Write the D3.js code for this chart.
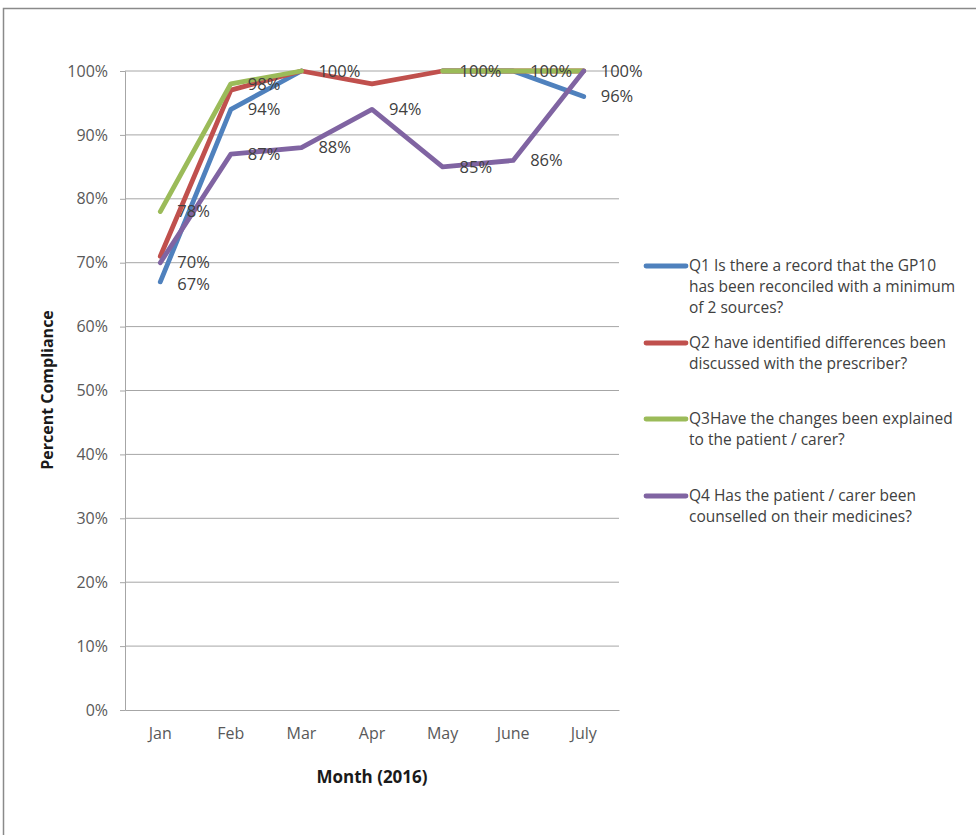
<!DOCTYPE html>
<html>
<head>
<meta charset="utf-8">
<script src="https://cdn.jsdelivr.net/npm/d3@7/dist/d3.min.js"></script>
<style>
  html, body { margin: 0; padding: 0; background: #fff; }
  svg { display: block; font-family: "Open Sans", "Noto Sans", sans-serif; }
</style>
</head>
<body>
<svg id="chart" width="976" height="835"></svg>
<script>
// Months audited
const months = ["Jan", "Feb", "Mar", "Apr", "May", "June", "July"];

// Percent compliance per question (null = not recorded that month)
const q1Values = [67, 94, 100, null, 100, 100, 96];
const q2Values = [71, 97, 100, 98, 100, 100, 100];
const q3Values = [78, 98, 100, null, 100, 100, 100];
const q4Values = [70, 87, 88, 94, 85, 86, 100];

const q1Name = ["Q1 Is there a record that the GP10", "has been reconciled with a minimum", "of 2 sources?"];
const q2Name = ["Q2 have identified differences been", "discussed with the prescriber?"];
const q3Name = ["Q3Have the changes been explained", "to the patient / carer?"];
const q4Name = ["Q4 Has the patient / carer been", "counselled on their medicines?"];

const yTicks = [0, 10, 20, 30, 40, 50, 60, 70, 80, 90, 100];

const series = [
  { name: q1Name, values: q1Values, color: "#4F81BD", labelled: true },
  { name: q2Name, values: q2Values, color: "#C0504D", labelled: false },
  { name: q3Name, values: q3Values, color: "#9BBB59", labelled: true },
  { name: q4Name, values: q4Values, color: "#8064A2", labelled: true }
];

const svg = d3.select("#chart");

// outer chart frame
svg.append("rect")
  .attr("x", 3.5).attr("y", 8.5)
  .attr("width", 990).attr("height", 850)
  .attr("fill", "none").attr("stroke", "#8a8a8a").attr("stroke-width", 1.5);

const plot = { left: 125, right: 619, top: 71, bottom: 710 };

const x = d3.scaleBand().domain(months).range([plot.left, plot.right]);
const y = d3.scaleLinear().domain([0, 100]).range([plot.bottom, plot.top]);

// horizontal gridlines
svg.append("g")
  .selectAll("line")
  .data(yTicks.filter(t => t > 0))
  .join("line")
  .attr("x1", plot.left).attr("x2", plot.right)
  .attr("y1", d => y(d)).attr("y2", d => y(d))
  .attr("stroke", "#a6a6a6").attr("stroke-width", 1);

// y axis
const yAxis = svg.append("g")
  .attr("transform", `translate(${plot.left},0)`)
  .call(d3.axisLeft(y).tickValues(yTicks).tickFormat(d => d + "%").tickSize(5).tickPadding(12));
yAxis.select(".domain").attr("stroke", "#a6a6a6");
yAxis.selectAll(".tick line").attr("stroke", "#a6a6a6");
yAxis.selectAll(".tick text")
  .attr("fill", "#595959").style("font-size", "16px")
  .style("font-family", "\"Open Sans\", sans-serif");

// x axis
const xAxis = svg.append("g")
  .attr("transform", `translate(0,${plot.bottom})`)
  .call(d3.axisBottom(x).tickSize(0).tickPadding(18));
xAxis.select(".domain").attr("stroke", "#a6a6a6");
xAxis.selectAll(".tick text")
  .attr("fill", "#595959").style("font-size", "16px")
  .style("font-family", "\"Open Sans\", sans-serif");

// axis titles
svg.append("text")
  .attr("x", 372).attr("y", 783)
  .attr("text-anchor", "middle")
  .attr("fill", "#1a1a1a")
  .style("font-size", "17px").style("font-weight", "bold")
  .text("Month (2016)");

svg.append("text")
  .attr("transform", "translate(53,390) rotate(-90)")
  .attr("text-anchor", "middle")
  .attr("fill", "#1a1a1a")
  .style("font-size", "16px").style("font-weight", "bold")
  .text("Percent Compliance");

// lines
const cx = m => x(m) + x.bandwidth() / 2;
const line = d3.line()
  .defined(d => d.v !== null)
  .x(d => cx(d.m))
  .y(d => y(d.v));

series.forEach(s => {
  const pts = months.map((m, i) => ({ m, v: s.values[i] }));
  svg.append("path")
    .datum(pts)
    .attr("d", line)
    .attr("fill", "none")
    .attr("stroke", s.color)
    .attr("stroke-width", 4.8)
    .attr("stroke-linejoin", "round")
    .attr("stroke-linecap", "round");
});

// data labels to the right of each point: one label per distinct value
// in a month, nudged apart vertically when two would collide
const minGap = 22;
const labels = [];
months.forEach((m, i) => {
  const vals = [...new Set(series.filter(s => s.labelled)
    .map(s => s.values[i]).filter(v => v !== null))].sort((a, b) => b - a);
  let prevY = -Infinity;
  vals.forEach(v => {
    const ly = Math.max(y(v), prevY + minGap);
    labels.push({ m, v, ly });
    prevY = ly;
  });
});

svg.append("g")
  .selectAll("text")
  .data(labels)
  .join("text")
  .attr("x", d => cx(d.m) + 17)
  .attr("y", d => d.ly)
  .attr("dy", "0.35em")
  .attr("fill", "#404040")
  .style("font-size", "16.5px")
  .text(d => d.v + "%");

// legend
const legendTop = [266, 343, 419, 496];
const lg = svg.append("g");
series.forEach((s, i) => {
  const g = lg.append("g").attr("transform", `translate(0,${legendTop[i]})`);
  g.append("line")
    .attr("x1", 646).attr("x2", 686)
    .attr("y1", 0).attr("y2", 0)
    .attr("stroke", s.color).attr("stroke-width", 4.8)
    .attr("stroke-linecap", "round");
  g.selectAll("text")
    .data(s.name)
    .join("text")
    .attr("x", 689)
    .attr("y", (d, j) => j * 21)
    .attr("dy", "0.35em")
    .attr("fill", "#404040")
    .style("font-size", "15.5px")
    .text(d => d);
});
</script>
</body>
</html>
